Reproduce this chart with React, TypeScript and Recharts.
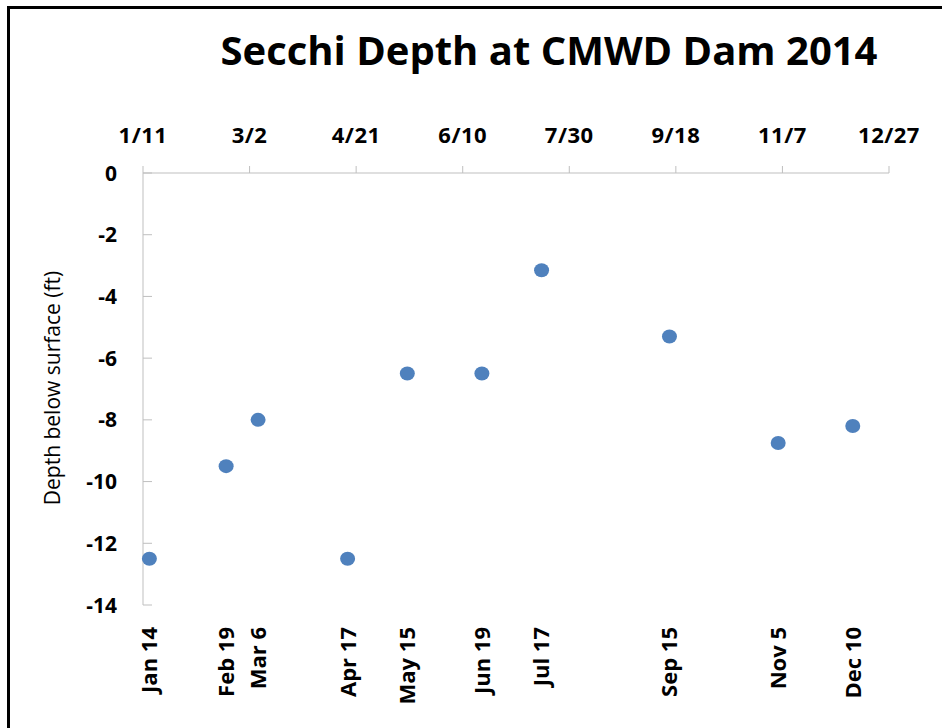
import React from "react";
import { ScatterChart, Scatter, XAxis, YAxis, Label, LabelList } from "recharts";

// sampling days as day-of-year 2014
const sampleDays = [14, 50, 65, 107, 135, 170, 198, 258, 309, 344];
const sampleLabels = ["Jan 14", "Feb 19", "Mar 6", "Apr 17", "May 15", "Jun 19", "Jul 17", "Sep 15", "Nov 5", "Dec 10"];
const secchiDepth = [-12.5, -9.5, -8, -12.5, -6.5, -6.5, -3.15, -5.3, -8.75, -8.2];

const topTicks = [11, 61, 111, 161, 211, 261, 311, 361];
const topTickLabels = ["1/11", "3/2", "4/21", "6/10", "7/30", "9/18", "11/7", "12/27"];
const yTicks = [0, -2, -4, -6, -8, -10, -12, -14];

const data = sampleDays.map((d, i) => ({ day: d, depth: secchiDepth[i], label: sampleLabels[i] }));

const AXIS = "#bfbfbf";
const FONT = "'Open Sans', sans-serif";
const PLOT_BOTTOM = 605;

const YTick = (props: any) => {
  const { x, y, payload } = props;
  const axisX = x + 26;
  return (
    <g>
      <line x1={axisX} x2={axisX + 9} y1={y} y2={y} stroke={AXIS} strokeWidth={1} />
      <text x={x} y={y} dy="0.36em" textAnchor="end" fontFamily={FONT} fontWeight="bold" fontSize={21} fill="#000">
        {payload.value}
      </text>
    </g>
  );
};

// rotated date labels under the plot, one per sample
const DateLabel = (props: any) => {
  const vb = props.viewBox || props;
  const x = (vb.x ?? props.x) + (vb.width ?? 0) / 2;
  const ty = PLOT_BOTTOM + 22;
  return (
    <text
      x={x}
      y={ty}
      dy="0.36em"
      textAnchor="end"
      transform={`rotate(-90 ${x} ${ty})`}
      fontFamily={FONT}
      fontWeight="bold"
      fontSize={22}
      fill="#000"
    >
      {props.value}
    </text>
  );
};

const Dot = (props: any) => <ellipse cx={props.cx} cy={props.cy} rx={7.5} ry={7} fill="#4F81BD" />;

export default function App() {
  return (
    <div style={{ position: "absolute", left: 0, top: 0, width: 942, height: 728, background: "#fff", overflow: "hidden" }}>
      <div
        style={{
          position: "absolute",
          left: 7,
          top: 6,
          right: -10,
          bottom: -10,
          borderTop: "3px solid #000",
          borderLeft: "3px solid #000",
        }}
      />
      <div
        style={{
          position: "absolute",
          left: 0,
          width: 1098,
          top: 23,
          textAlign: "center",
          fontFamily: FONT,
          fontWeight: "bold",
          fontSize: 40,
          lineHeight: "54px",
          color: "#000",
        }}
      >
        Secchi Depth at CMWD Dam 2014
      </div>
      <div style={{ position: "absolute", left: 0, top: 0 }}>
        <ScatterChart width={942} height={728} margin={{ top: 113, right: 53, left: 20, bottom: 123 }}>
          <XAxis
            xAxisId="top"
            orientation="top"
            type="number"
            dataKey="day"
            domain={[11, 361]}
            ticks={topTicks}
            tickFormatter={(v) => topTickLabels[topTicks.indexOf(v)]}
            interval={0}
            height={60}
            stroke={AXIS}
            tickSize={7}
            tickMargin={23}
            tick={{ fill: "#000", fontFamily: FONT, fontWeight: "bold", fontSize: 22, letterSpacing: 0.5 }}
          />
          <YAxis
            type="number"
            dataKey="depth"
            domain={[-14, 0]}
            ticks={yTicks}
            interval={0}
            width={123}
            stroke={AXIS}
            tickLine={false}
            tickSize={0}
            tickMargin={26}
            tick={<YTick />}
          >
            <Label
              content={() => (
                <text
                  x={52}
                  y={388}
                  transform="rotate(-90 52 388)"
                  textAnchor="middle"
                  dy="0.36em"
                  fontFamily={FONT}
                  fontSize={21}
                  fill="#000"
                >
                  Depth below surface (ft)
                </text>
              )}
            />
          </YAxis>
          <Scatter xAxisId="top" data={data} dataKey="depth" shape={<Dot />} isAnimationActive={false}>
            <LabelList dataKey="label" content={<DateLabel />} />
          </Scatter>
        </ScatterChart>
      </div>
    </div>
  );
}
